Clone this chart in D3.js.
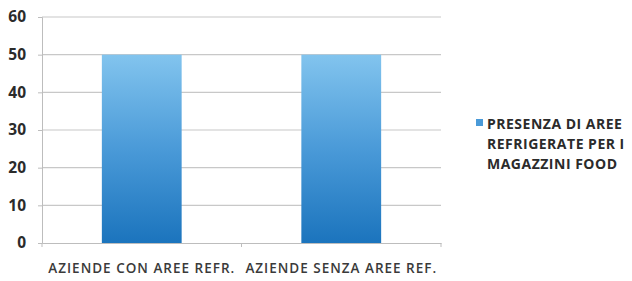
<!DOCTYPE html>
<html lang="en">
<head>
  <meta charset="UTF-8">
  <title>Presenza di aree refrigerate</title>
  <style>
    body { margin: 0; background: #fff; overflow: hidden; }
    svg { display: block; font-family: "Open Sans", Lato, sans-serif; }
    .tick-label { font-size: 15.5px; font-weight: 700; fill: #2b2b2b; }
    .cat-label { font-size: 13.5px; font-weight: 600; fill: #3a3a3a; letter-spacing: 1px; }
    .legend-text { font-size: 14px; font-weight: 700; fill: #2b2b2b; letter-spacing: 0.5px; }
  </style>
</head>
<body>
  <svg width="632" height="281"></svg>
  <script src="https://d3js.org/d3.v7.min.js"></script>
  <script>
    // data
    const categories = ["AZIENDE CON AREE REFR.", "AZIENDE SENZA AREE REF."];
    const values = [50, 50];
    const yTicks = [0, 10, 20, 30, 40, 50, 60];
    const legendLines = ["PRESENZA DI AREE", "REFRIGERATE PER I", "MAGAZZINI FOOD"];

    const svg = d3.select("svg");
    const plotLeft = 42, plotRight = 441, plotTop = 17, plotBottom = 243;

    const x = d3.scaleBand()
      .domain(categories)
      .range([plotLeft, plotRight])
      .paddingInner(0.6)
      .paddingOuter(0.3);

    const y = d3.scaleLinear().domain([0, 60]).range([plotBottom, plotTop]);

    // gradient for bars
    const grad = svg.append("defs").append("linearGradient")
      .attr("id", "barGrad")
      .attr("x1", 0).attr("y1", 0).attr("x2", 0).attr("y2", 1);
    grad.append("stop").attr("offset", "0%").attr("stop-color", "#82c4ee");
    grad.append("stop").attr("offset", "50%").attr("stop-color", "#4a9ad8");
    grad.append("stop").attr("offset", "100%").attr("stop-color", "#1b74bd");

    // gridlines
    svg.append("g")
      .selectAll("line")
      .data(yTicks.filter(d => d > 0))
      .join("line")
      .attr("x1", plotLeft).attr("x2", plotRight)
      .attr("y1", d => y(d)).attr("y2", d => y(d))
      .attr("stroke", "#c8c8c8").attr("stroke-width", 1.2);

    // y axis
    const yAxis = svg.append("g")
      .attr("transform", `translate(${plotLeft},0)`)
      .call(d3.axisLeft(y).tickValues(yTicks).tickSize(4).tickPadding(12));
    yAxis.attr("font-family", null).attr("font-size", null);
    yAxis.select(".domain").attr("stroke", "#bdbdbd");
    yAxis.selectAll(".tick line").attr("stroke", "#bdbdbd");
    yAxis.selectAll(".tick text").attr("class", "tick-label").attr("fill", null);

    // bars
    svg.append("g")
      .selectAll("rect")
      .data(values)
      .join("rect")
      .attr("x", (d, i) => x(categories[i]))
      .attr("width", x.bandwidth())
      .attr("y", d => y(d))
      .attr("height", d => y(0) - y(d))
      .attr("fill", "url(#barGrad)");

    // x axis
    const xAxis = svg.append("g")
      .attr("transform", `translate(0,${plotBottom})`)
      .call(d3.axisBottom(x).tickSize(0).tickPadding(20));
    xAxis.attr("font-family", null).attr("font-size", null);
    xAxis.select(".domain").attr("stroke", "#bdbdbd");
    xAxis.selectAll(".tick text").attr("class", "cat-label").attr("fill", null);

    // category separator ticks
    const step = x.step();
    svg.append("g")
      .selectAll("line")
      .data([plotLeft, plotLeft + step, plotRight])
      .join("line")
      .attr("x1", d => d).attr("x2", d => d)
      .attr("y1", plotBottom).attr("y2", plotBottom + 4)
      .attr("stroke", "#bdbdbd");

    // legend
    const lg = svg.append("g").attr("transform", "translate(476,119)");
    lg.append("rect").attr("x", 0).attr("y", 0).attr("width", 7).attr("height", 7).attr("fill", "#4a9ad8");
    lg.selectAll("text")
      .data(legendLines)
      .join("text")
      .attr("class", "legend-text")
      .attr("x", 11)
      .attr("y", (d, i) => 10 + i * 20)
      .text(d => d);
  </script>
</body>
</html>
